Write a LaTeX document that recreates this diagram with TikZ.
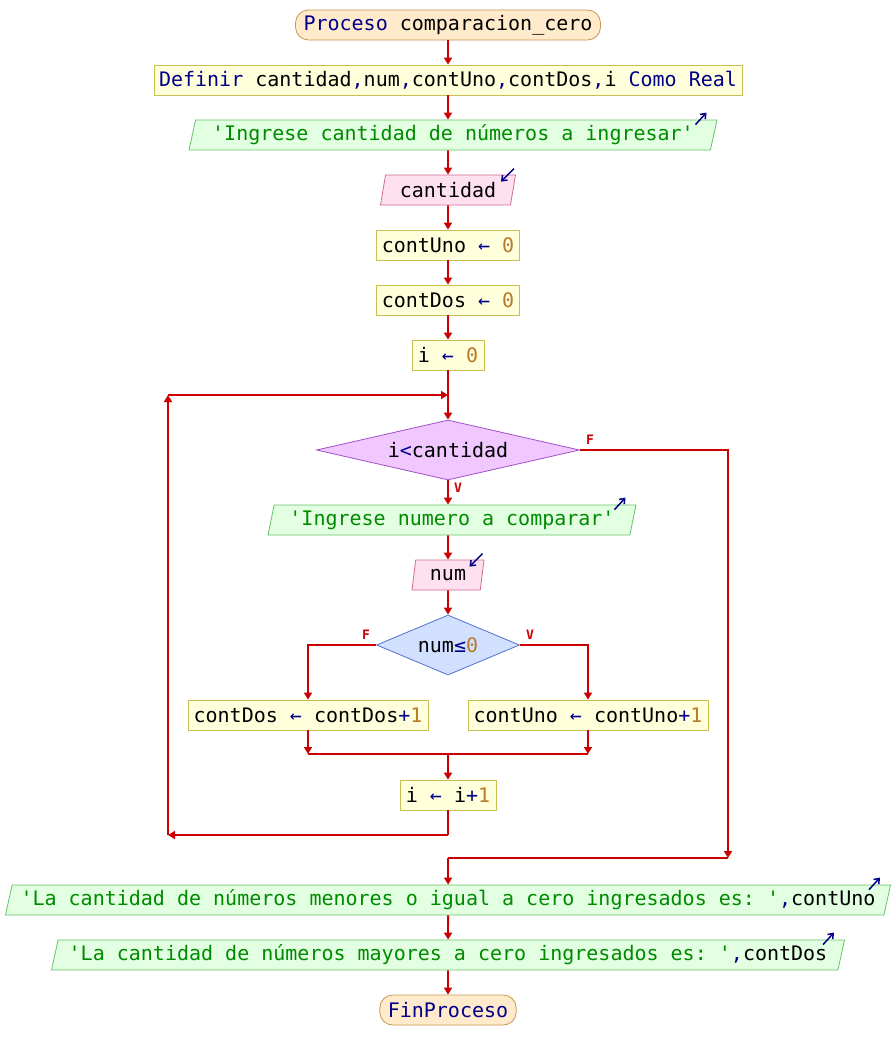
\documentclass[tikz,border=0pt]{standalone}
\usepackage{fontspec}
\setmonofont{DejaVu Sans Mono}
\usetikzlibrary{shapes.geometric,arrows.meta}

\definecolor{kwblue}{HTML}{000088}
\definecolor{strgreen}{HTML}{008A00}
\definecolor{numbrown}{HTML}{B87A28}
\definecolor{flowred}{HTML}{CC0000}
\definecolor{procfill}{HTML}{FFFFDC}
\definecolor{procdraw}{HTML}{C8C050}
\definecolor{outfill}{HTML}{E2FFE2}
\definecolor{outdraw}{HTML}{66C266}
\definecolor{infill}{HTML}{FFE0EE}
\definecolor{indraw}{HTML}{D06C98}
\definecolor{termfill}{HTML}{FFEBCC}
\definecolor{termdraw}{HTML}{C89650}
\definecolor{loopfill}{HTML}{F0C8FF}
\definecolor{loopdraw}{HTML}{A050C8}
\definecolor{iffill}{HTML}{D2E0FF}
\definecolor{ifdraw}{HTML}{5070D0}

\newcommand{\pkw}[1]{\textcolor{kwblue}{#1}}
\newcommand{\pstr}[1]{\textcolor{strgreen}{#1}}
\newcommand{\pnum}[1]{\textcolor{numbrown}{#1}}
\newcommand{\pop}[1]{\textcolor{kwblue}{#1}}
\newcommand{\passign}{\textcolor{kwblue}{←}}

\tikzset{
  term/.style={rectangle, rounded corners=13pt, draw=termdraw, fill=termfill,
    line width=0.8pt, minimum height=30pt, inner xsep=8pt, inner ysep=0pt},
  procbox/.style={rectangle, draw=procdraw, fill=procfill, line width=0.8pt,
    minimum height=30pt, inner xsep=5pt, inner ysep=0pt},
  iobox/.style={trapezium, trapezium left angle=72, trapezium right angle=108,
    trapezium stretches body=true, line width=0.8pt, minimum height=30pt,
    inner xsep=6pt, inner ysep=0pt},
  outbox/.style={iobox, draw=outdraw, fill=outfill},
  inbox/.style={iobox, draw=indraw, fill=infill},
  loopcond/.style={diamond, draw=loopdraw, fill=loopfill, line width=0.8pt,
    inner sep=0pt, aspect=4.38, minimum width=263pt, minimum height=60pt},
  ifcond/.style={diamond, draw=ifdraw, fill=iffill, line width=0.8pt,
    inner sep=0pt, aspect=2.38, minimum width=143pt, minimum height=60pt},
  flowline/.style={draw=flowred, line width=1.8pt},
  flow/.style={flowline, -{Triangle[length=7pt,width=8pt]}},
  iomark/.style={draw=kwblue, line width=1.5pt, -{Straight Barb[length=4.5pt,width=7pt]}},
  branchlbl/.style={text=flowred, font=\ttfamily\bfseries\fontsize{13}{13}\selectfont,
    inner sep=0pt}
}

\begin{document}
\begin{tikzpicture}[x=1pt, y=-1pt, font=\ttfamily\fontsize{20}{24}\selectfont]
  \useasboundingbox (0,0) rectangle (896,1060);
  \fill[white] (0,0) rectangle (896,1060);

  % main sequence
  \node[term] (start) at (448,25) {\pkw{Proceso} comparacion\_cero};
  \node[procbox, minimum width=588pt] (def) at (448,80)
    {\pkw{Definir} cantidad\pkw{,}num\pkw{,}contUno\pkw{,}contDos\pkw{,}i \pkw{Como Real}};
  \node[outbox, minimum width=528pt] (out1) at (453,135)
    {\pstr{'Ingrese cantidad de números a ingresar'}};
  \node[inbox, minimum width=135pt] (in1) at (448,190) {cantidad};
  \node[procbox, minimum width=143pt] (a1) at (448,245) {contUno \passign{} \pnum{0}};
  \node[procbox, minimum width=143pt] (a2) at (448,300) {contDos \passign{} \pnum{0}};
  \node[procbox, minimum width=72pt] (a3) at (448,355) {i \passign{} \pnum{0}};

  % loop
  \node[loopcond] (d1) at (448,450) {i\pop{<}cantidad};
  \node[outbox, minimum width=368pt] (out2) at (452,520)
    {\pstr{'Ingrese numero a comparar'}};
  \node[inbox, minimum width=72pt] (in2) at (448,575) {num};
  \node[ifcond] (d2) at (448,645) {num\pop{≤}\pnum{0}};
  \node[procbox, minimum width=240pt] (a4) at (308,715)
    {contDos \passign{} contDos\pop{+}\pnum{1}};
  \node[procbox, minimum width=240pt] (a5) at (588,715)
    {contUno \passign{} contUno\pop{+}\pnum{1}};
  \node[procbox, minimum width=96pt] (inc) at (448,795) {i \passign{} i\pop{+}\pnum{1}};

  % results
  \node[outbox, minimum width=885pt] (out3) at (448,900)
    {\pstr{'La cantidad de números menores o igual a cero ingresados es: '}\pkw{,}contUno};
  \node[outbox, minimum width=793pt] (out4) at (448,955)
    {\pstr{'La cantidad de números mayores a cero ingresados es: '}\pkw{,}contDos};
  \node[term] (fin) at (448,1010) {\pkw{FinProceso}};

  % branch labels
  \node[branchlbl] (lf1) at (590,440) {F};
  \node[branchlbl] (lv1) at (458,488) {V};
  \node[branchlbl] (lf2) at (366,635) {F};
  \node[branchlbl] (lv2) at (530,635) {V};

  % input / output markers
  \draw[iomark] ([shift={(-22,5)}]out1.top right corner) -- ++(11,-12);
  \draw[iomark] ([shift={(-22,5)}]out2.top right corner) -- ++(11,-12);
  \draw[iomark] ([shift={(-22,5)}]out3.top right corner) -- ++(11,-12);
  \draw[iomark] ([shift={(-22,5)}]out4.top right corner) -- ++(11,-12);
  \draw[iomark] ([shift={(-2,-6)}]in1.top right corner) -- ++(-13,13);
  \draw[iomark] ([shift={(-2,-6)}]in2.top right corner) -- ++(-13,13);

  % junction points
  \coordinate (jtop) at (448,395);
  \coordinate (ltop) at (168,395);
  \coordinate (lbot) at (168,835);
  \coordinate (ibot) at (448,835);
  \coordinate (fr) at (728,858);
  \coordinate (fl) at (448,858);
  \coordinate (jl) at (308,754);
  \coordinate (jr) at (588,754);
  \coordinate (jm) at (448,754);

  % connectors
  \draw[flow] (start.south) -- (def.north);
  \draw[flow] (def.south) -- (def.south |- out1.north);
  \draw[flow] (def.south |- out1.south) -- (in1.north);
  \draw[flow] (in1.south) -- (a1.north);
  \draw[flow] (a1.south) -- (a2.north);
  \draw[flow] (a2.south) -- (a3.north);
  \draw[flowline] (a3.south) -- (jtop);
  \draw[flow] (jtop) -- (d1.north);
  \draw[flow] (d1.south) -- (d1.south |- out2.north);
  \draw[flow] (d1.south |- out2.south) -- (in2.north);
  \draw[flow] (in2.south) -- (d2.north);
  \draw[flow] (d2.west) -| (a4.north);
  \draw[flow] (d2.east) -| (a5.north);
  \draw[flow] (a4.south) -- (jl);
  \draw[flow] (a5.south) -- (jr);
  \draw[flowline] (jl) -- (jr);
  \draw[flow] (jm) -- (inc.north);
  \draw[flowline] (inc.south) -- (ibot);
  \draw[flow] (ibot) -- (lbot);
  \draw[flow] (lbot) -- (ltop);
  \draw[flow] (ltop) -- (jtop);
  \draw[flow] (d1.east) -| (fr);
  \draw[flowline] (fr) -- (fl);
  \draw[flow] (fl) -- (out3.north);
  \draw[flow] (out3.south) -- (out4.north);
  \draw[flow] (out4.south) -- (fin.north);
\end{tikzpicture}
\end{document}
